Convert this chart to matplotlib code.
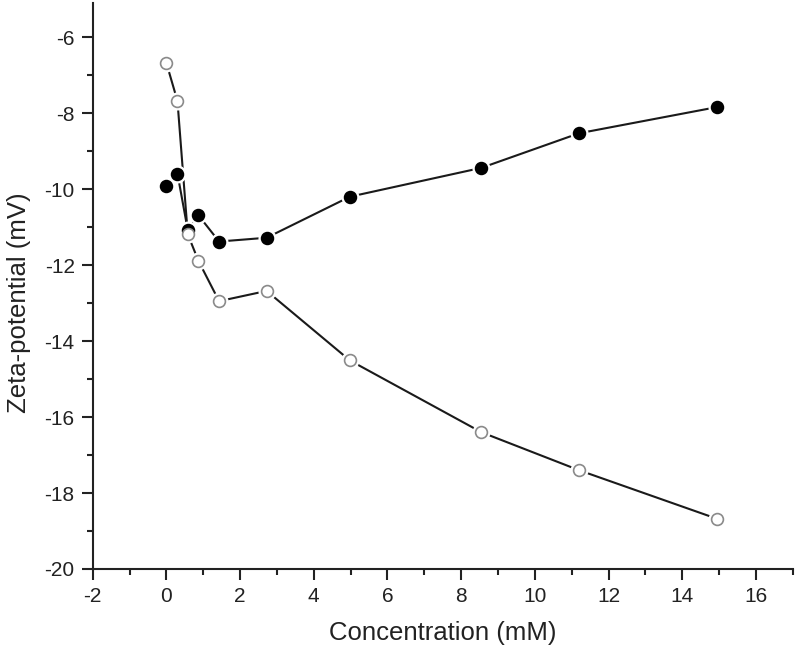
import matplotlib.pyplot as plt
from matplotlib.ticker import MultipleLocator

plt.rcParams['font.family'] = ['Liberation Sans', 'DejaVu Sans']
plt.rcParams['axes.unicode_minus'] = False

# data
conc = [0.0, 0.3, 0.58, 0.87, 1.43, 2.72, 4.98, 8.55, 11.2, 14.95]
zeta_filled = [-9.92, -9.59, -11.08, -10.69, -11.38, -11.28, -10.2, -9.44, -8.53, -7.84]
zeta_open = [-6.68, -7.68, -11.19, -11.89, -12.95, -12.68, -14.51, -16.4, -17.4, -18.68]

fig = plt.figure(figsize=(8, 6.62), dpi=100)
ax = fig.add_axes([0.1159, 0.1405, 0.875, 0.855])

for y, face, edge in [(zeta_filled, 'black', 'black'), (zeta_open, 'white', '#8a8a8a')]:
    ax.plot(conc, y, color='#1a1a1a', linewidth=1.5, zorder=2)
    # white halo so the line stops short of each marker
    ax.plot(conc, y, linestyle='none', marker='o', markersize=12,
            markerfacecolor='white', markeredgecolor='white', zorder=3)
    ax.plot(conc, y, linestyle='none', marker='o', markersize=8.5,
            markerfacecolor=face, markeredgecolor=edge, markeredgewidth=1.2, zorder=4)

ax.set_xlim(-2, 17)
ax.set_ylim(-20, -5.1)
ax.xaxis.set_major_locator(MultipleLocator(2))
ax.xaxis.set_minor_locator(MultipleLocator(1))
ax.yaxis.set_major_locator(MultipleLocator(2))
ax.yaxis.set_minor_locator(MultipleLocator(1))

ax.spines['top'].set_visible(False)
ax.spines['right'].set_visible(False)
for s in ['left', 'bottom']:
    ax.spines[s].set_linewidth(1.5)
    ax.spines[s].set_color('#222222')

ax.tick_params(which='major', direction='out', length=8, width=1.5, labelsize=15,
               pad=5, colors='#222222')
ax.tick_params(which='minor', direction='out', length=4.5, width=1.5, colors='#222222')

ax.set_xlabel('Concentration (mM)', fontsize=18.5, labelpad=11, color='#222222')
ax.set_ylabel('Zeta-potential (mV)', fontsize=18.5, color='#222222')
ax.yaxis.set_label_coords(-0.088, 0.47)

fig.savefig('out.png', dpi=100)
